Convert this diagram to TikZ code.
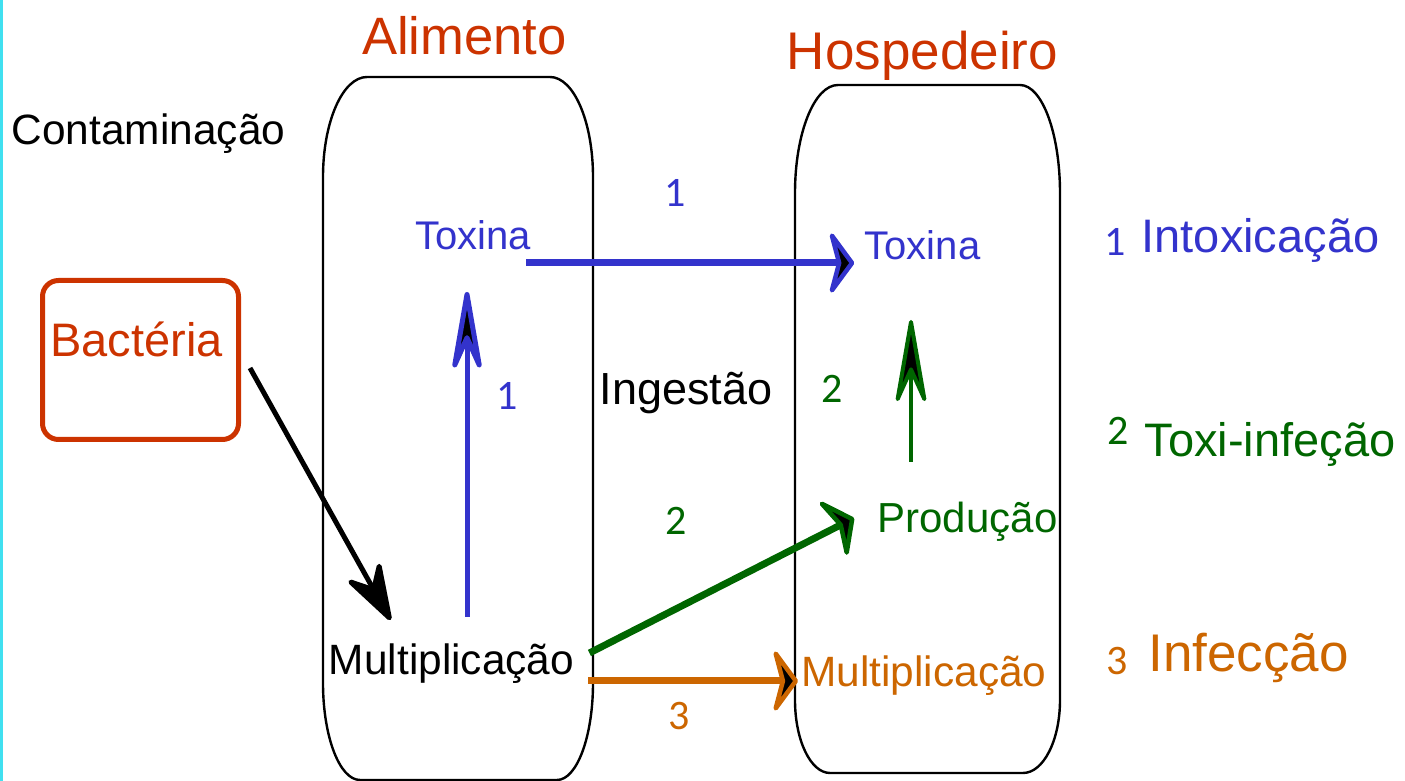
\documentclass[tikz,border=0pt]{standalone}
\usepackage{fontspec}
\setmainfont{Liberation Sans}
\newfontfamily\carlito{Carlito}
\usepackage{tikz}
\usetikzlibrary{arrows.meta}
\usetikzlibrary{positioning}
\usetikzlibrary{calc}
\definecolor{vermelho}{RGB}{204,51,0}
\definecolor{azul}{RGB}{51,51,204}
\definecolor{verde}{RGB}{0,102,0}
\definecolor{laranja}{RGB}{204,102,0}
\definecolor{ciano}{RGB}{64,224,240}
\tikzset{
  texto/.style = {inner sep=0pt, anchor=base,
    font=\fontsize{#1pt}{#1pt}\selectfont},% texto simples
  num/.style = {inner sep=0pt, anchor=base,
    font=\carlito\fontsize{21pt}{21pt}\selectfont},% numero da via
  caixa/.style = {draw=black, line width=1.2pt},% alimento / hospedeiro
  bact_box/.style = {draw=vermelho, line width=2.5pt, rounded corners=8pt,
    minimum width=98pt, minimum height=79.5pt},
  ponta_larga/.style = {-{Stealth[length=14pt,width=38pt,inset=5pt,fill=black,round]}},
  ponta_fina/.style = {-{Stealth[length=52pt,width=18pt,inset=20pt,fill=black,round]}}
}

\begin{document}
\begin{tikzpicture}[x=0.5pt,y=0.5pt]
\useasboundingbox (0,0) rectangle (1405,781);
\fill[ciano] (0,0) rectangle (3,781);

% caixas
\draw[caixa] (367,704) -- (550,704) arc[start angle=90,end angle=0,x radius=43,y radius=100]
  -- (593,98) arc[start angle=0,end angle=-90,x radius=36,y radius=97]
  -- (360,1) arc[start angle=270,end angle=180,x radius=37,y radius=97]
  -- (323,604) arc[start angle=180,end angle=90,x radius=44,y radius=100] -- cycle;
\draw[caixa] (838,696) -- (1020,696) arc[start angle=90,end angle=0,x radius=40,y radius=108]
  -- (1060,81) arc[start angle=0,end angle=-90,x radius=37,y radius=73]
  -- (830,8) arc[start angle=270,end angle=180,x radius=35,y radius=73]
  -- (795,588) arc[start angle=180,end angle=90,x radius=43,y radius=108] -- cycle;

\node[texto=26.3, vermelho] (alim) at (464.5,726) {Alimento};
\node[texto=26.5, vermelho] (hosp) at (922.5,711) {Hospedeiro};
\node[texto=21.2] (cont) at (148.5,636) {Contaminação};
\node[bact_box] (bact) at (140.5,421) {};
\node[texto=23.5, vermelho] (bactlbl) at (136.5,424) {Bactéria};

\node[texto=20, azul] (toxA) at (473,531) {Toxina};
\node[texto=20, azul] (toxB) at (922.5,521) {Toxina};
\node[texto=22.5] (ingest) at (686,376) {Ingestão};
\node[texto=21.2] (multA) at (451.5,106) {Multiplicação};
\node[texto=21.2, laranja] (multB) at (924,94) {Multiplicação};
\node[texto=21, verde] (prod) at (967.5,248) {Produção};

% legenda
\node[num, azul] (n1) at (1115,525) {1};
\node[texto=23.5, azul] (intox) at (1260.5,528) {Intoxicação};
\node[num, verde] (n2) at (1118,336) {2};
\node[texto=23.5, verde] (toxinf) at (1270,324) {Toxi-infeção};
\node[num, laranja] (n3) at (1117,106) {3};
\node[texto=26.5, laranja] (infec) at (1248.5,109) {Infecção};

% numeros das setas
\node[num, azul] (la) at (675,574) {1};
\node[num, azul] (lb) at (507,371) {1};
\node[num, verde] (lc) at (832,378) {2};
\node[num, verde] (ld) at (676,246) {2};
\node[num, laranja] (le) at (679,51) {3};

% setas
\draw[-{Stealth[length=34pt,width=22pt,inset=12pt,fill=black,round]}, line width=2.5pt]
  ($(bact.east)+(9,-8)$) -- ($(multA.base west)+(62,55)$);
\draw[ponta_fina, azul, line width=2.5pt] ($(multA.base)+(15.5,58)$) -- ($(toxA.base)+(-6,-42)$);
\draw[ponta_larga, azul, line width=3.5pt] ($(toxA.base east)+(-5,-13)$) -- ($(toxB.base west)+(-10,-3)$);
\draw[ponta_fina, verde, line width=2pt] ($(prod.base)+(-56.5,71)$) -- ($(toxB.base)+(-11.5,-60)$);
\draw[ponta_larga, verde, line width=3.5pt] ($(multA.base east)+(15,22)$) -- ($(prod.base west)+(-23,15)$);
\draw[ponta_larga, laranja, line width=3.5pt] ($(multA.base east)+(14,-6)$) -- ($(multB.base west)+(-3,6)$);
\end{tikzpicture}
\end{document}
